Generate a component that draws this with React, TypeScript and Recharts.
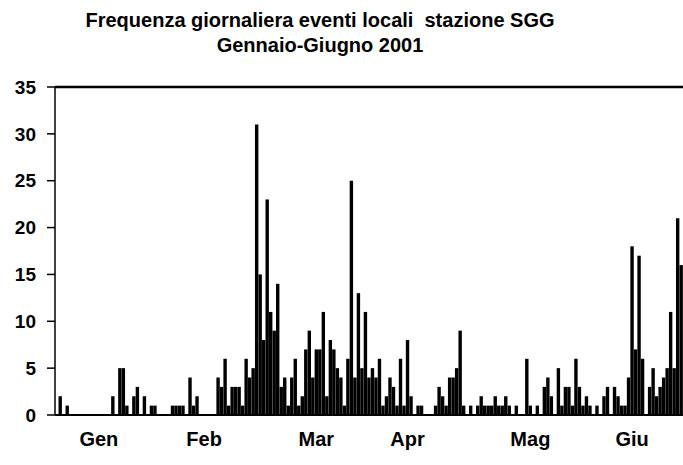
import { BarChart, Bar, XAxis, YAxis, ReferenceLine } from 'recharts';

// daily event counts, station SGG, Jan-Jun 2001
const janCounts = [0, 2, 0, 1, 0, 0, 0, 0, 0, 0, 0, 0, 0, 0, 0, 0, 2, 0, 5, 5, 1, 0, 2, 3, 0, 2, 0, 1, 1, 0, 0];
const febCounts = [0, 0, 1, 1, 1, 1, 0, 4, 1, 2, 0, 0, 0, 0, 0, 4, 3, 6, 1, 3, 3, 3, 1, 6, 4, 5, 31, 15];
const marCounts = [8, 23, 11, 9, 14, 3, 4, 1, 4, 6, 1, 2, 7, 9, 4, 7, 7, 11, 2, 8, 7, 5, 4, 1, 6, 25, 4, 13, 5, 11, 4];
const aprCounts = [5, 4, 6, 1, 2, 4, 3, 1, 6, 1, 8, 2, 0, 1, 1, 0, 0, 0, 1, 3, 2, 1, 4, 4, 5, 9, 1, 0, 1, 0];
const mayCounts = [1, 2, 1, 1, 1, 2, 1, 1, 2, 1, 0, 1, 0, 0, 6, 1, 0, 1, 0, 3, 4, 2, 0, 5, 1, 3, 3, 1, 6, 3, 1];
const junCounts = [2, 1, 0, 1, 0, 2, 3, 0, 3, 2, 1, 1, 4, 18, 7, 17, 6, 0, 3, 5, 2, 3, 4, 5, 11, 5, 21, 16, 9, 4];

const monthLabels = ['Gen', 'Feb', 'Mar', 'Apr', 'Mag', 'Giu'];
const monthLabelDays = [12, 42, 74, 100, 135, 164];
const yTicks = [0, 5, 10, 15, 20, 25, 30, 35];

const allCounts = [...janCounts, ...febCounts, ...marCounts, ...aprCounts, ...mayCounts, ...junCounts];
const data = allCounts.map((events, day) => ({ day, events }));

const font = '"Liberation Sans", Arial, sans-serif';

export default function App() {
  return (
    <div style={{ position: 'fixed', left: 0, top: 0, width: 683, height: 465, overflow: 'hidden', background: '#fff', fontFamily: font }}>
      <div style={{ position: 'absolute', left: 0, width: 640, top: 8, textAlign: 'center', fontWeight: 700, fontSize: 20, lineHeight: '25px', color: '#000' }}>
        Frequenza giornaliera eventi locali&nbsp; stazione SGG
        <br />
        Gennaio-Giugno 2001
      </div>
      <div style={{ position: 'absolute', left: 0, top: 0 }}>
        {/* chart is a bit wider than the page: the reference is cropped on the right */}
        <BarChart
          width={690}
          height={465}
          data={data}
          margin={{ top: 87, right: 0, bottom: 0, left: 0 }}
          barCategoryGap={0}
          barSize={3.4}
        >
          <XAxis
            dataKey="day"
            ticks={monthLabelDays}
            tickFormatter={(d: number) => monthLabels[monthLabelDays.indexOf(d)] ?? ''}
            interval={0}
            axisLine={{ stroke: '#000', strokeWidth: 2 }}
            tickLine={false}
            tickSize={0}
            tickMargin={17}
            tick={{ fill: '#000', fontSize: 20, fontWeight: 700, fontFamily: font }}
            height={50}
          />
          <YAxis
            domain={[0, 35]}
            ticks={yTicks}
            width={55}
            axisLine={{ stroke: '#000', strokeWidth: 1.5 }}
            tickLine={{ stroke: '#000', strokeWidth: 1.5 }}
            tickSize={8}
            tickMargin={11}
            tick={{ fill: '#000', fontSize: 19, fontWeight: 700, fontFamily: font }}
          />
          <ReferenceLine y={35} stroke="#000" strokeWidth={2.5} />
          <Bar dataKey="events" fill="#000" isAnimationActive={false} />
        </BarChart>
      </div>
    </div>
  );
}
